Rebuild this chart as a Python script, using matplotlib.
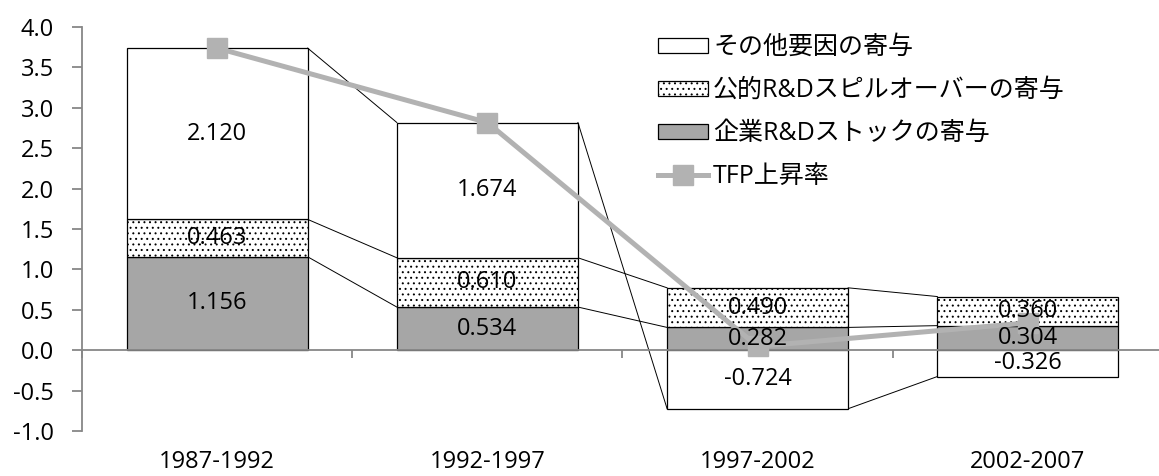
import numpy as np
import matplotlib
matplotlib.use("Agg")
import matplotlib.pyplot as plt
from matplotlib.ticker import FixedLocator

plt.rcParams['font.family'] = ['Open Sans', 'Noto Sans CJK JP']
plt.rcParams['axes.unicode_minus'] = False
plt.rcParams['hatch.linewidth'] = 0.7

# Contribution to TFP growth by period (percentage points)
periods = ['1987-1992', '1992-1997', '1997-2002', '2002-2007']
firm_rd = [1.156, 0.534, 0.282, 0.304]
public_spill = [0.463, 0.610, 0.490, 0.360]
other = [2.120, 1.674, -0.724, -0.326]

label_other = 'その他要因の寄与'
label_public = '公的R&Dスピルオーバーの寄与'
label_firm = '企業R&Dストックの寄与'
label_tfp = 'TFP上昇率'

AXIS_GRAY = '#878787'
BAR_GRAY = '#a6a6a6'
LINE_GRAY = '#b2b2b2'
FS = 17

series = [
    (firm_rd, dict(facecolor=BAR_GRAY, edgecolor='black'), label_firm),
    (public_spill, dict(facecolor='white', edgecolor='black', hatch='...'), label_public),
    (other, dict(facecolor='white', edgecolor='black'), label_other),
]

x = np.arange(len(periods))
width = 0.67
tfp = np.sum([np.array(s[0]) for s in series], axis=0)

fig = plt.figure(figsize=(11.59, 4.76), dpi=100)
ax = fig.add_axes([82 / 1159, 45 / 476, 1081 / 1159, 404 / 476])

pos_base = np.zeros(len(periods))
neg_base = np.zeros(len(periods))
handles = {}
segment_tops = []
for vals, style, label in series:
    vals = np.array(vals)
    bottom = np.where(vals >= 0, pos_base, neg_base)
    bars = ax.bar(x, vals, width, bottom=bottom, linewidth=0.9, zorder=2, **style)
    handles[label] = bars
    for xi, b, v in zip(x, bottom, vals):
        ax.text(xi, b + v / 2, f'{v:.3f}', ha='center', va='center',
                fontsize=FS, zorder=5)
    top = bottom + vals
    segment_tops.append(top)
    pos_base = np.where(vals >= 0, top, pos_base)
    neg_base = np.where(vals < 0, top, neg_base)

# series lines joining each segment's outer edge between neighbouring bars
for top in segment_tops:
    for i in range(len(periods) - 1):
        ax.plot([x[i] + width / 2, x[i + 1] - width / 2], [top[i], top[i + 1]],
                color='black', linewidth=0.7, zorder=1)

tfp_line, = ax.plot(x, tfp, color=LINE_GRAY, linewidth=3.6, marker='s',
                    markersize=14, markerfacecolor=LINE_GRAY,
                    markeredgecolor=LINE_GRAY, zorder=4, label=label_tfp)

ax.set_xlim(-0.5, len(periods) - 0.5)
ax.set_ylim(-1.0, 4.0)
ax.set_yticks(np.arange(-1.0, 4.01, 0.5))
ax.set_yticklabels([f'{v:.1f}' for v in np.arange(-1.0, 4.01, 0.5)])

for side in ['top', 'right']:
    ax.spines[side].set_visible(False)
ax.spines['bottom'].set_position(('data', 0))
for side in ['left', 'bottom']:
    ax.spines[side].set_color(AXIS_GRAY)
    ax.spines[side].set_linewidth(1.3)

ax.set_xticks(x)
ax.set_xticklabels(periods)
ax.xaxis.set_minor_locator(FixedLocator(np.arange(-0.5, len(periods), 1.0)))
ax.tick_params(axis='x', which='major', length=0, pad=72, labelsize=FS)
ax.tick_params(axis='x', which='minor', length=6, width=1.3, color=AXIS_GRAY,
               direction='out')
ax.tick_params(axis='y', length=7, width=1.3, color=AXIS_GRAY, pad=13,
               labelsize=FS)

leg = ax.legend([handles[label_other], handles[label_public], handles[label_firm], tfp_line],
                [label_other, label_public, label_firm, label_tfp],
                loc='upper left', bbox_to_anchor=(566 / 1081, 1.005), frameon=False,
                fontsize=18, handlelength=2.0, handleheight=0.55, handletextpad=0.2,
                labelspacing=0.72, borderaxespad=0.0)

fig.savefig('out.png', dpi=100)
